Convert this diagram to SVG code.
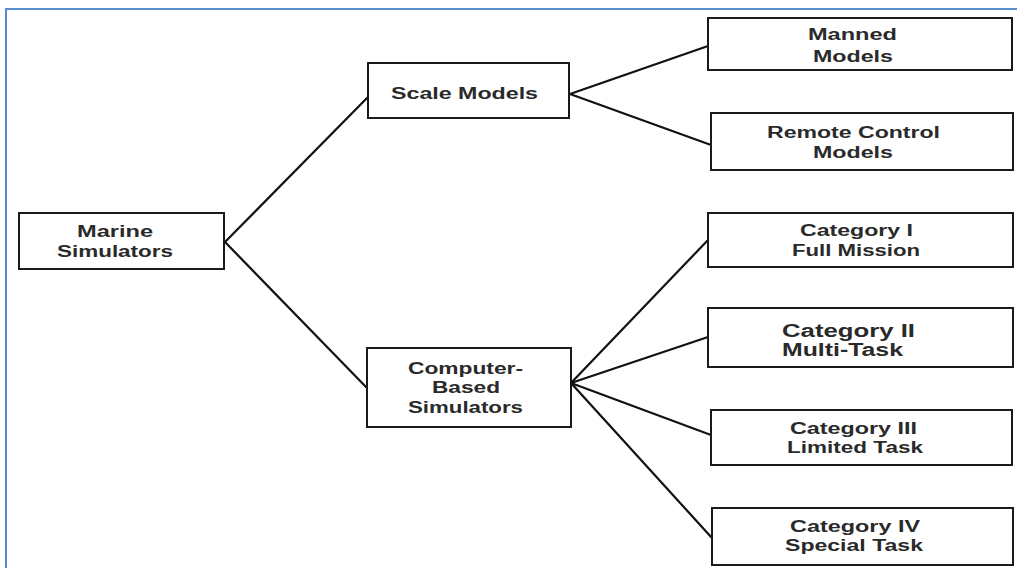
<svg xmlns="http://www.w3.org/2000/svg" width="1017" height="568" viewBox="0 0 1017 568">
<style>
.box{fill:#fff;stroke:#1a1a1a;stroke-width:2}
.ln{stroke:#111;stroke-width:2.2;fill:none}
.t{font-family:"Liberation Sans",Arial,sans-serif;font-weight:bold;font-size:16px;fill:#2a2a2a}
.frame{stroke:#5b8bd0;stroke-width:2;fill:none}
</style>
<rect width="1017" height="568" fill="#fff"/>
<path class="frame" d="M6,568 V9 H1017"/>
<g id="connectors">
<line class="ln" x1="225" y1="242" x2="368" y2="97"/>
<line class="ln" x1="225" y1="242" x2="367" y2="388"/>
<line class="ln" x1="570" y1="94" x2="708" y2="46"/>
<line class="ln" x1="570" y1="94" x2="711" y2="145"/>
<line class="ln" x1="571" y1="383" x2="708" y2="240"/>
<line class="ln" x1="571" y1="383" x2="708" y2="337"/>
<line class="ln" x1="571" y1="383" x2="711" y2="435"/>
<line class="ln" x1="571" y1="383" x2="712" y2="538"/>
</g>
<g id="marine">
<rect class="box" x="19" y="213" width="205" height="56"/>
<text class="t" x="77" y="237" textLength="76" lengthAdjust="spacingAndGlyphs">Marine</text>
<text class="t" x="57" y="257" textLength="116" lengthAdjust="spacingAndGlyphs">Simulators</text>
</g>
<g id="scale">
<rect class="box" x="368" y="63" width="201" height="55"/>
<text class="t" x="391" y="99" textLength="147" lengthAdjust="spacingAndGlyphs">Scale Models</text>
</g>
<g id="computer">
<rect class="box" x="367" y="348" width="204" height="79"/>
<text class="t" x="408" y="374" textLength="115" lengthAdjust="spacingAndGlyphs">Computer-</text>
<text class="t" x="432" y="393" textLength="68" lengthAdjust="spacingAndGlyphs">Based</text>
<text class="t" x="408" y="413" textLength="115" lengthAdjust="spacingAndGlyphs">Simulators</text>
</g>
<g id="manned">
<rect class="box" x="708" y="18" width="304" height="52"/>
<text class="t" x="808" y="40" textLength="89" lengthAdjust="spacingAndGlyphs">Manned</text>
<text class="t" x="813" y="62" textLength="80" lengthAdjust="spacingAndGlyphs">Models</text>
</g>
<g id="remote">
<rect class="box" x="711" y="113" width="302" height="57"/>
<text class="t" x="767" y="138" textLength="173" lengthAdjust="spacingAndGlyphs">Remote Control</text>
<text class="t" x="813" y="158" textLength="80" lengthAdjust="spacingAndGlyphs">Models</text>
</g>
<g id="cat1">
<rect class="box" x="708" y="213" width="305" height="54"/>
<text class="t" x="800" y="236" textLength="113" lengthAdjust="spacingAndGlyphs">Category I</text>
<text class="t" x="792" y="256" textLength="128" lengthAdjust="spacingAndGlyphs">Full Mission</text>
</g>
<g id="cat2">
<rect class="box" x="708" y="308" width="305" height="59"/>
<text class="t" x="782" y="337" textLength="133" lengthAdjust="spacingAndGlyphs" style="font-size:18px">Category II</text>
<text class="t" x="782" y="356" textLength="121" lengthAdjust="spacingAndGlyphs" style="font-size:18px">Multi-Task</text>
</g>
<g id="cat3">
<rect class="box" x="711" y="410" width="301" height="55"/>
<text class="t" x="790" y="434" textLength="127" lengthAdjust="spacingAndGlyphs">Category III</text>
<text class="t" x="787" y="453" textLength="136" lengthAdjust="spacingAndGlyphs">Limited Task</text>
</g>
<g id="cat4">
<rect class="box" x="712" y="508" width="301" height="57"/>
<text class="t" x="790" y="532" textLength="130" lengthAdjust="spacingAndGlyphs">Category IV</text>
<text class="t" x="785" y="551" textLength="138" lengthAdjust="spacingAndGlyphs">Special Task</text>
</g>
</svg>
